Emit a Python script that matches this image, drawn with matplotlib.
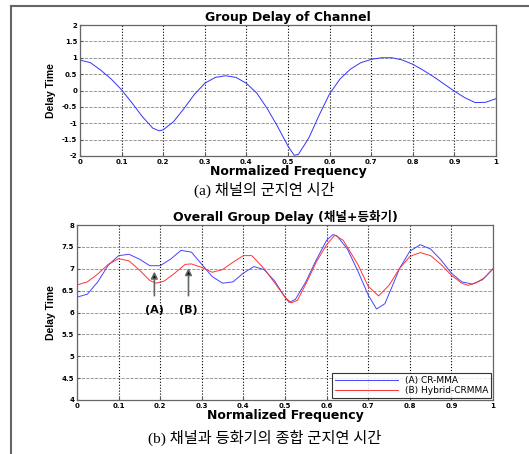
import numpy as np
import matplotlib.pyplot as plt
from matplotlib.lines import Line2D

# (a) group delay of channel
ch_x = [0.000, 0.025, 0.050, 0.075, 0.100, 0.125, 0.150, 0.175, 0.190, 0.200,
        0.225, 0.250, 0.275, 0.300, 0.325, 0.350, 0.375, 0.400, 0.425, 0.450,
        0.475, 0.500, 0.515, 0.525, 0.550, 0.575, 0.600, 0.625, 0.650, 0.675,
        0.700, 0.725, 0.750, 0.775, 0.800, 0.825, 0.850, 0.875, 0.900, 0.925,
        0.950, 0.975, 1.000]
ch_y = [0.93, 0.85, 0.62, 0.35, 0.02, -0.38, -0.80, -1.15, -1.23, -1.20,
        -0.95, -0.55, -0.12, 0.22, 0.40, 0.45, 0.40, 0.22, -0.08, -0.55,
        -1.10, -1.70, -1.98, -1.95, -1.45, -0.75, -0.10, 0.35, 0.65, 0.85,
        0.95, 1.00, 1.00, 0.93, 0.80, 0.62, 0.42, 0.20, -0.02, -0.22,
        -0.37, -0.36, -0.25]

# (b) overall group delay
a_x = [0.000, 0.025, 0.050, 0.075, 0.100, 0.125, 0.150, 0.175, 0.200, 0.225,
       0.250, 0.275, 0.300, 0.325, 0.350, 0.375, 0.400, 0.425, 0.450, 0.475,
       0.500, 0.510, 0.525, 0.550, 0.575, 0.600, 0.615, 0.625, 0.650, 0.675,
       0.700, 0.720, 0.740, 0.760, 0.775, 0.800, 0.825, 0.850, 0.875, 0.900,
       0.925, 0.950, 0.975, 1.000]
a_y = [6.35, 6.42, 6.70, 7.08, 7.30, 7.33, 7.22, 7.07, 7.07, 7.22,
       7.42, 7.38, 7.10, 6.82, 6.67, 6.70, 6.90, 7.05, 6.98, 6.72,
       6.35, 6.23, 6.30, 6.70, 7.20, 7.65, 7.78, 7.75, 7.45, 6.95,
       6.40, 6.08, 6.20, 6.65, 7.00, 7.40, 7.55, 7.45, 7.20, 6.90,
       6.70, 6.65, 6.75, 7.00]
b_x = [0.000, 0.025, 0.050, 0.075, 0.100, 0.125, 0.150, 0.175, 0.190, 0.210,
       0.235, 0.260, 0.275, 0.300, 0.325, 0.350, 0.375, 0.400, 0.420, 0.450,
       0.475, 0.500, 0.515, 0.530, 0.550, 0.575, 0.600, 0.620, 0.640, 0.675,
       0.700, 0.725, 0.750, 0.775, 0.800, 0.825, 0.850, 0.875, 0.900, 0.925,
       0.940, 0.960, 0.980, 1.000]
b_y = [6.63, 6.70, 6.88, 7.10, 7.23, 7.18, 6.97, 6.73, 6.67, 6.72,
       6.90, 7.10, 7.11, 7.03, 6.92, 6.98, 7.15, 7.30, 7.30, 7.00,
       6.68, 6.35, 6.22, 6.28, 6.65, 7.15, 7.55, 7.77, 7.65, 7.10,
       6.60, 6.38, 6.62, 7.00, 7.28, 7.37, 7.30, 7.10, 6.85, 6.67,
       6.62, 6.68, 6.80, 7.00]

xticks = np.round(np.arange(0, 1.01, 0.1), 1)
xtick_labels = ['0', '0.1', '0.2', '0.3', '0.4', '0.5', '0.6', '0.7', '0.8', '0.9', '1']
top_yticks = [-2, -1.5, -1, -0.5, 0, 0.5, 1, 1.5, 2]
bot_yticks = [4, 4.5, 5, 5.5, 6, 6.5, 7, 7.5, 8]

sans = ['DejaVu Sans', 'Noto Sans CJK KR']
narrow = ['Liberation Sans', 'Noto Sans CJK KR']
serif = ['Liberation Serif', 'Noto Sans CJK KR']

fig = plt.figure(figsize=(5.29, 4.54), dpi=100)
W, H = 529, 454


def style(ax, yticks):
    ax.set_xlim(0, 1)
    ax.set_xticks(xticks)
    ax.set_xticklabels(xtick_labels)
    ax.set_yticks(yticks)
    ax.set_yticklabels(['%g' % v for v in yticks])
    ax.tick_params(direction='in', length=2, labelsize=5, pad=2, color='#555555')
    for lab in ax.get_xticklabels() + ax.get_yticklabels():
        lab.set_fontweight('bold')
        lab.set_family(sans)
    for s in ax.spines.values():
        s.set_color('#666666')
        s.set_linewidth(0.9)
    ax.xaxis.grid(True, linestyle=':', color='black', linewidth=0.8)
    ax.yaxis.grid(True, linestyle='--', color='#888888', linewidth=0.6)
    ax.set_xlabel('Normalized Frequency', fontsize=9, fontweight='bold', family=sans, labelpad=0)
    ax.set_ylabel('Delay Time', fontsize=7.5, fontweight='bold', family=narrow, labelpad=4)


ax1 = fig.add_axes([80 / W, 1 - 156 / H, 416 / W, 131 / H])
ax1.plot(ch_x, ch_y, color='#3333ff', linewidth=0.7)
ax1.set_ylim(-2, 2)
style(ax1, top_yticks)
ax1.set_title('Group Delay of Channel', fontsize=9, fontweight='bold', family=sans, pad=3)

ax2 = fig.add_axes([77 / W, 1 - 400 / H, 416 / W, 175 / H])
ax2.plot(a_x, a_y, color='#4444ff', linewidth=0.7, label='(A) CR-MMA')
ax2.plot(b_x, b_y, color='#ff3333', linewidth=0.7, label='(B) Hybrid-CRMMA')
ax2.set_ylim(4, 8)
style(ax2, bot_yticks)
ax2.set_title('Overall Group Delay (채널+등화기)', fontsize=9, fontweight='bold', family=sans, pad=3)

for x0, y0, lab in [(0.186, 7.0, '(A)'), (0.268, 7.08, '(B)')]:
    ax2.annotate('', xy=(x0, y0), xytext=(x0, 6.32),
                 arrowprops=dict(arrowstyle='-|>', color='#666666', lw=1.2,
                                 mutation_scale=10, fc='black', ec='#666666'))
    ax2.text(x0, 6.06, lab, ha='center', va='center', fontsize=8,
             fontweight='bold', family=sans)

leg = ax2.legend(loc='lower right', frameon=True, fancybox=False,
                 edgecolor='black', handlelength=7, borderpad=0.3,
                 labelspacing=0.15, borderaxespad=0.2, prop={'family': sans, 'size': 6.5})
leg.get_frame().set_linewidth(0.8)

fig.text(0.5, 1 - 190 / H, '(a) 채널의 군지연 시간', ha='center', va='center',
         fontsize=11, family=serif)
fig.text(0.5, 1 - 438 / H, '(b) 채널과 등화기의 종합 군지연 시간', ha='center', va='center',
         fontsize=11, family=serif)

# outer frame (left and top edge)
fig.add_artist(Line2D([11 / W, 11 / W], [0, 1 - 6 / H], color='#666666', linewidth=1.5,
                      transform=fig.transFigure))
fig.add_artist(Line2D([11 / W, 1], [1 - 6 / H, 1 - 6 / H], color='#666666', linewidth=1.5,
                      transform=fig.transFigure))

fig.savefig('out.png', dpi=100)
